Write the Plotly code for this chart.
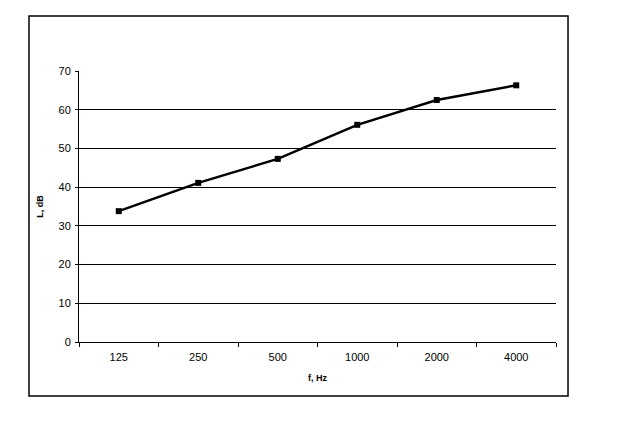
import plotly.graph_objects as go

freqs = ["125", "250", "500", "1000", "2000", "4000"]
levels = [33.8, 41.1, 47.3, 56.1, 62.5, 66.3]
y_ticks = [0, 10, 20, 30, 40, 50, 60, 70]

fig = go.Figure()
fig.add_trace(go.Scatter(
    x=freqs, y=levels, mode="lines+markers",
    line=dict(color="black", width=2.5),
    marker=dict(symbol="square", size=6, color="black"),
    showlegend=False,
))

font = dict(family="Liberation Sans, Arial, sans-serif", size=11, color="black")
tfont = dict(size=9, family="Liberation Sans, Arial, sans-serif", color="black")

fig.update_layout(
    width=625, height=425,
    margin=dict(l=71, r=77, t=63, b=91),
    paper_bgcolor="white", plot_bgcolor="white",
    font=font,
    xaxis=dict(
        type="category", range=[-0.5, 5.5],
        showline=True, linecolor="black", linewidth=1,
        ticks="outside", ticklen=4, tickcolor="black", tickson="boundaries",
        ticklabelstandoff=5,
        showgrid=False, zeroline=False,
        title=dict(text="<b>f, Hz</b>", font=tfont, standoff=12),
        tickfont=font,
    ),
    yaxis=dict(
        range=[0, 70], tickvals=y_ticks,
        showline=True, linecolor="black", linewidth=1,
        ticks="outside", ticklen=3, tickcolor="black",
        ticklabelstandoff=2,
        showgrid=True, gridcolor="black", gridwidth=1,
        zeroline=False,
        title=dict(text="<b>L, dB</b>", font=tfont, standoff=13),
        tickfont=font,
    ),
    shapes=[dict(
        type="rect", xref="paper", yref="paper",
        x0=-0.1048, x1=1.0252, y0=-0.199, y1=1.203,
        line=dict(color="black", width=1.5), fillcolor="rgba(0,0,0,0)",
    )],
)

fig.write_html("out.html")
